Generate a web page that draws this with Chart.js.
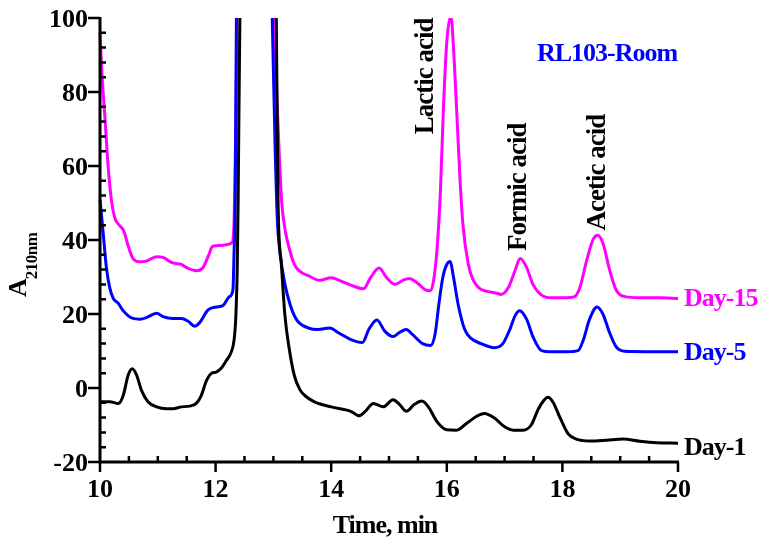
<!DOCTYPE html>
<html>
<head>
<meta charset="utf-8">
<title>RL103-Room</title>
<script src="https://cdn.jsdelivr.net/npm/chart.js@4.4.1/dist/chart.umd.min.js"></script>
<style>
  html, body { margin: 0; padding: 0; background: #fff; }
  #wrap { width: 762px; height: 544px; }
</style>
</head>
<body>
<div id="wrap"><canvas id="chromChart" width="762" height="544"></canvas></div>
<script>
// retention time (min) / absorbance at 210 nm, one pair of arrays per sampling day
const day1Time = [10.00, 10.17, 10.32, 10.40, 10.49, 10.56, 10.63, 10.72, 10.83, 10.98, 11.15, 11.26, 11.41, 11.55, 11.67, 11.75, 11.84, 11.93, 12.01, 12.10, 12.18, 12.27, 12.32, 12.35, 12.375, 12.39, 12.42, 12.72, 13.05, 13.08, 13.14, 13.20, 13.27, 13.36, 13.46, 13.58, 13.72, 14.00, 14.34, 14.48, 14.59, 14.73, 14.90, 15.07, 15.18, 15.30, 15.44, 15.57, 15.69, 15.83, 16.00, 16.17, 16.34, 16.51, 16.65, 16.83, 17.00, 17.15, 17.32, 17.46, 17.58, 17.67, 17.75, 17.84, 17.95, 18.10, 18.24, 18.47, 18.76, 19.05, 19.34, 19.63, 20.00];
const day1Abs = [-3.7, -3.7, -4.2, -2.1, 3.6, 5.2, 3.6, -0.7, -3.7, -5.1, -5.6, -5.6, -5.1, -4.9, -4.1, -2.1, 1.9, 4.0, 4.3, 5.4, 7.3, 9.7, 13, 19.3, 32.8, 50.8, 100, 260, 100, 50.8, 33, 19.5, 11, 3.5, -0.5, -2.5, -3.8, -5.1, -6.3, -7.5, -6.3, -4.2, -5.1, -3.2, -4.4, -6.3, -4.4, -3.5, -5.3, -9.1, -11.3, -11.4, -9.6, -7.7, -6.9, -8.2, -10.5, -11.4, -11.4, -10.0, -5.8, -3.5, -2.5, -3.9, -7.7, -12.4, -13.8, -14.3, -14.1, -13.8, -14.4, -14.8, -14.9];

const day5Time = [10.00, 10.06, 10.11, 10.17, 10.23, 10.32, 10.40, 10.49, 10.57, 10.69, 10.80, 10.98, 11.09, 11.26, 11.41, 11.52, 11.64, 11.72, 11.87, 12.01, 12.13, 12.24, 12.30, 12.32, 12.34, 12.36, 12.68, 12.98, 13.03, 13.07, 13.12, 13.20, 13.29, 13.40, 13.61, 13.77, 13.97, 14.14, 14.34, 14.54, 14.65, 14.79, 14.93, 15.07, 15.18, 15.30, 15.41, 15.58, 15.72, 15.80, 15.86, 15.93, 16.00, 16.06, 16.11, 16.20, 16.31, 16.42, 16.59, 16.82, 16.97, 17.09, 17.18, 17.26, 17.38, 17.49, 17.64, 17.81, 18.07, 18.27, 18.36, 18.47, 18.60, 18.70, 18.82, 18.93, 19.08, 19.45, 20.00];
const day5Abs = [51, 41, 32.6, 27, 24.2, 22.8, 20.9, 19.5, 18.8, 18.6, 19.0, 20.2, 19.3, 18.8, 18.8, 18.1, 16.7, 17.6, 21.1, 21.9, 22.3, 24.7, 26.5, 37, 51, 100, 260, 100, 65, 45, 36, 28, 22.5, 18.5, 16.2, 15.8, 16.2, 14.8, 13.1, 12.3, 15.8, 18.4, 15.3, 13.9, 15.0, 15.8, 14.4, 12.0, 11.5, 14.8, 22.3, 29.8, 33.4, 34.2, 30.5, 22.3, 15.8, 13.4, 12.0, 10.9, 12.0, 15.8, 19.5, 20.9, 18.6, 13.9, 10.1, 9.8, 9.8, 10.1, 12.9, 18.6, 21.9, 20.0, 14.8, 11.1, 9.9, 9.8, 9.8];

const day15Time = [10.00, 10.03, 10.09, 10.14, 10.20, 10.26, 10.34, 10.41, 10.49, 10.57, 10.69, 10.80, 10.98, 11.09, 11.26, 11.41, 11.49, 11.67, 11.78, 11.87, 11.95, 12.07, 12.18, 12.28, 12.32, 12.35, 12.37, 12.70, 13.01, 13.07, 13.14, 13.20, 13.27, 13.36, 13.46, 13.61, 13.80, 14.00, 14.17, 14.39, 14.56, 14.68, 14.83, 14.96, 15.10, 15.24, 15.35, 15.49, 15.63, 15.72, 15.77, 15.83, 15.89, 15.94, 16.00, 16.07, 16.13, 16.18, 16.23, 16.28, 16.37, 16.45, 16.56, 16.70, 16.87, 16.94, 17.06, 17.18, 17.27, 17.38, 17.49, 17.64, 17.81, 18.04, 18.21, 18.30, 18.42, 18.53, 18.61, 18.70, 18.82, 18.93, 19.08, 19.34, 19.68, 20.00];
const day15Abs = [96, 86, 72, 60, 50.5, 45.8, 43.9, 42.5, 38.3, 35.0, 34.1, 34.3, 35.5, 35.3, 33.8, 33.4, 32.6, 31.7, 32.5, 35.5, 38.3, 38.5, 38.7, 39.2, 45, 70, 100, 260, 100, 75, 51, 43, 38, 33.5, 31.5, 30.3, 29.1, 29.8, 28.9, 27.5, 26.8, 29.8, 32.4, 29.8, 28.0, 29.1, 29.6, 28.4, 26.5, 26.3, 28.9, 37.3, 53.3, 74.9, 93.6, 100.5, 88, 72, 56, 44, 33.6, 29.4, 27.0, 26.1, 25.6, 25.3, 27.0, 31.7, 35.0, 32.6, 28.0, 25.1, 24.4, 24.4, 24.7, 27.0, 34.5, 40.1, 41.3, 39.2, 31.7, 26.5, 24.7, 24.4, 24.4, 24.2];

const seriesNames = ['Day-1', 'Day-5', 'Day-15'];
const seriesColors = ['#000000', '#0000ff', '#ff00ff'];

const xTicks = [10, 12, 14, 16, 18, 20];
const yTicks = [-20, 0, 20, 40, 60, 80, 100];

// peak names, written upright beside each acid peak (time, absorbance where the text starts)
const peakNames = ['Lactic acid', 'Formic acid', 'Acetic acid'];
const peakLabelTime = [15.61, 17.21, 18.58];
const peakLabelAbs = [68.6, 37, 42.6];

const sampleName = 'RL103-Room';

const FONT = '"Liberation Serif", "Times New Roman", serif';

function toPoints(t, a) {
  return t.map((v, i) => ({ x: v, y: a[i] }));
}

const traces = [toPoints(day1Time, day1Abs), toPoints(day5Time, day5Abs), toPoints(day15Time, day15Abs)];

// axes, ticks and all the text are drawn here so the tick directions match the plot style
const decorations = {
  id: 'decorations',
  afterDatasetsDraw(chart) {
    const { ctx, chartArea: a, scales: { x, y } } = chart;
    ctx.save();
    ctx.strokeStyle = '#000';
    ctx.fillStyle = '#000';
    ctx.lineWidth = 3;
    ctx.lineCap = 'butt';

    ctx.beginPath();
    ctx.moveTo(a.left, a.top - 1);
    ctx.lineTo(a.left, a.bottom);
    ctx.lineTo(a.right + 1, a.bottom);
    ctx.stroke();

    ctx.lineWidth = 2.5;
    ctx.beginPath();
    // minor ticks point into the plot
    for (let v = yTicks[0]; v <= yTicks[yTicks.length - 1]; v += 4) {
      if (yTicks.includes(v)) continue;
      const py = y.getPixelForValue(v);
      ctx.moveTo(a.left, py);
      ctx.lineTo(a.left + 6, py);
    }
    for (let v = xTicks[0]; v <= xTicks[xTicks.length - 1]; v += 0.5) {
      if (xTicks.includes(v)) continue;
      const px = x.getPixelForValue(v);
      ctx.moveTo(px, a.bottom);
      ctx.lineTo(px, a.bottom - 6);
    }
    // major ticks point outward
    yTicks.forEach(v => {
      const py = y.getPixelForValue(v);
      ctx.moveTo(a.left - 12, py);
      ctx.lineTo(a.left, py);
    });
    xTicks.forEach(v => {
      const px = x.getPixelForValue(v);
      ctx.moveTo(px, a.bottom);
      ctx.lineTo(px, a.bottom + 10);
    });
    ctx.stroke();

    ctx.font = 'bold 26px ' + FONT;
    ctx.letterSpacing = '0px';
    ctx.textBaseline = 'alphabetic';
    ctx.textAlign = 'right';
    yTicks.forEach(v => ctx.fillText(String(v), a.left - 12, y.getPixelForValue(v) + 8.5));
    ctx.textAlign = 'center';
    xTicks.forEach(v => ctx.fillText(String(v), x.getPixelForValue(v), a.bottom + 35));
    ctx.letterSpacing = '-1px';
    ctx.fillText('Time, min', (a.left + a.right) / 2 - 4, a.bottom + 71);

    // y title: A with subscript 210nm
    ctx.save();
    ctx.translate(26, 297);
    ctx.rotate(-Math.PI / 2);
    ctx.textAlign = 'left';
    ctx.fillText('A', 0, 0);
    const aw = ctx.measureText('A').width;
    ctx.font = 'bold 17px ' + FONT;
    ctx.letterSpacing = '-0.5px';
    ctx.fillText('210nm', aw, 11);
    ctx.restore();

    // trace names at the right-hand end of each line
    ctx.font = 'bold 26px ' + FONT;
    ctx.letterSpacing = '-1px';
    ctx.textAlign = 'left';
    traces.forEach((pts, i) => {
      const last = pts[pts.length - 1];
      ctx.fillStyle = seriesColors[i];
      const nudge = i === 0 ? 12 : 8;
      ctx.fillText(seriesNames[i], a.right + 6, y.getPixelForValue(last.y) + nudge);
    });

    ctx.fillStyle = '#0000ff';
    ctx.textAlign = 'center';
    ctx.fillText(sampleName, 607, 61);

    // peak names read bottom to top
    ctx.fillStyle = '#000';
    ctx.font = 'bold 27px ' + FONT;
    ctx.textAlign = 'left';
    peakNames.forEach((name, i) => {
      ctx.save();
      ctx.translate(x.getPixelForValue(peakLabelTime[i]) + 9, y.getPixelForValue(peakLabelAbs[i]));
      ctx.rotate(-Math.PI / 2);
      ctx.fillText(name, 0, 0);
      ctx.restore();
    });

    ctx.restore();
  }
};

new Chart(document.getElementById('chromChart'), {
  type: 'scatter',
  data: {
    datasets: traces.map((pts, i) => ({
      label: seriesNames[i],
      data: pts,
      showLine: true,
      borderColor: seriesColors[i],
      borderWidth: 3,
      pointRadius: 0,
      cubicInterpolationMode: 'monotone',
      clip: { left: 2, right: 2, top: 0, bottom: 2 }
    }))
  },
  options: {
    responsive: false,
    animation: false,
    layout: { padding: { left: 100, right: 84, top: 18, bottom: 82 } },
    plugins: { legend: { display: false }, tooltip: { enabled: false } },
    scales: {
      x: { type: 'linear', min: 10, max: 20, display: false },
      y: { type: 'linear', min: -20, max: 100, display: false }
    }
  },
  plugins: [decorations]
});
</script>
</body>
</html>
